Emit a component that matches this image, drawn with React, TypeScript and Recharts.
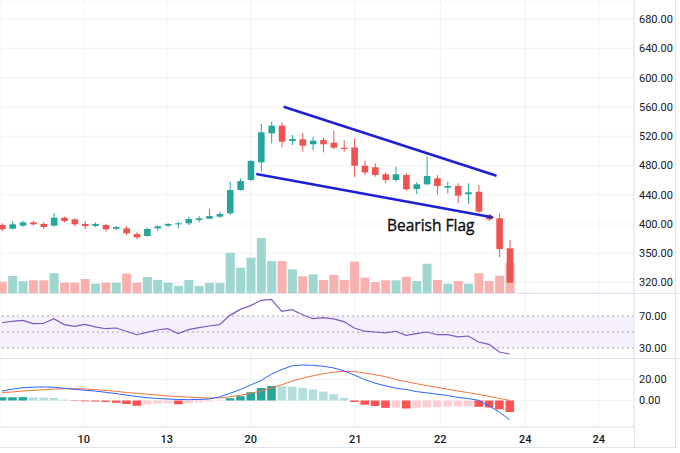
import React from 'react';
import {
  ComposedChart,
  Bar,
  Line,
  XAxis,
  YAxis,
  CartesianGrid,
  ReferenceLine,
  ReferenceArea,
  ReferenceDot,
  Cell,
} from 'recharts';

// ---------- data ----------
const opens = [
  398.6, 393.6, 397.7, 402.3, 400.0, 397.7, 408.6, 406.4, 400.0, 397.3,
  398.6, 393.6, 394.1, 386.3, 383.6, 394.1, 397.7, 399.6, 401.0, 405.5,
  407.2, 410.0, 414.6, 446.4, 460.1, 484.3, 523.9, 534.3, 513.4, 515.7,
  508.9, 514.7, 511.1, 504.2, 504.5, 479.6, 477.5, 467.9, 460.1, 466.9,
  447.8, 454.2, 462.4, 449.6, 451.9, 440.6, 444.1, 410.9, 407.8, 366.8,
];
const highs = [
  401.0, 404.1, 404.5, 404.1, 403.1, 414.6, 410.0, 407.8, 404.1, 402.3,
  400.0, 397.3, 397.3, 388.7, 394.9, 397.7, 401.0, 403.1, 410.0, 410.9,
  420.5, 416.8, 457.8, 462.4, 487.4, 536.6, 539.7, 538.9, 521.6, 524.7,
  519.3, 517.9, 527.4, 514.7, 517.1, 486.5, 482.9, 470.6, 478.3, 469.3,
  457.0, 491.9, 466.9, 457.8, 455.6, 455.6, 453.3, 413.7, 414.6, 378.1,
];
const lows = [
  390.4, 392.5, 396.3, 397.7, 392.8, 396.3, 402.3, 396.3, 392.8, 395.5,
  389.5, 391.8, 385.0, 379.1, 382.7, 390.8, 395.5, 394.1, 398.6, 402.3,
  406.8, 407.8, 412.3, 445.5, 458.7, 471.4, 510.2, 504.8, 507.9, 498.8,
  501.1, 497.9, 502.5, 498.8, 464.2, 466.9, 464.6, 455.6, 457.8, 445.5,
  441.0, 453.3, 440.6, 441.9, 428.3, 427.3, 415.4, 404.1, 354.5, 319.0,
];
const closes = [
  392.8, 399.6, 402.3, 399.6, 395.9, 408.6, 404.1, 399.6, 397.3, 400.0,
  392.8, 395.9, 387.3, 381.8, 393.2, 396.9, 400.0, 401.0, 406.8, 407.8,
  410.9, 413.7, 446.4, 458.7, 486.1, 525.3, 534.3, 512.4, 516.1, 507.0,
  513.8, 508.9, 504.2, 502.5, 479.5, 470.6, 466.9, 460.1, 467.9, 447.4,
  454.2, 465.6, 451.9, 451.9, 438.7, 443.3, 416.8, 406.4, 365.8, 319.8,
];
const volumes = [
  1130, 1700, 1170, 1270, 1270, 1970, 1030, 1030, 1400, 930,
  1030, 1030, 1930, 1030, 1600, 1300, 1030, 700, 1300, 700,
  1000, 1000, 4030, 2530, 3530, 5500, 3200, 3200, 2370, 1670,
  1870, 1300, 1800, 1300, 3130, 1530, 1100, 1270, 1270, 1630,
  1200, 2930, 1300, 930, 1200, 930, 1970, 1200, 1730, 3000,
];
const rsiValues = [
  61.6, 63.4, 64.6, 60.4, 60.6, 66.6, 59.3, 57.1, 59.6, 56.5,
  54.1, 55.0, 50.9, 46.6, 49.5, 52.5, 54.1, 47.9, 52.9, 55.5,
  57.5, 59.1, 70.8, 78.3, 83.0, 89.6, 90.9, 75.9, 77.9, 71.6,
  66.6, 67.9, 66.5, 63.0, 55.0, 51.0, 50.0, 48.8, 50.9, 45.9,
  48.0, 50.0, 46.6, 46.6, 43.8, 45.0, 37.5, 34.6, 25.0, 22.5,
];
const macdValues = [
  9.0, 10.8, 12.2, 12.7, 12.9, 12.6, 11.6, 10.6, 9.8, 9.0,
  7.8, 6.6, 5.2, 3.8, 2.7, 1.9, 1.4, 1.0, 0.8, 1.0,
  1.5, 3.5, 6.8, 10.5, 14.8, 19.0, 25.0, 29.5, 33.0, 33.8,
  33.5, 32.6, 31.0, 28.2, 24.2, 20.0, 16.5, 14.0, 11.8, 10.5,
  8.5, 7.3, 6.0, 4.8, 3.0, 1.8, 0.2, -5.0, -11.0, -18.3,
];
const signalValues = [
  7.4, 8.2, 9.0, 9.6, 10.3, 10.8, 11.2, 11.3, 11.0, 10.3,
  9.6, 8.8, 7.6, 6.8, 6.1, 5.2, 4.4, 3.8, 3.2, 2.7,
  2.4, 2.4, 3.5, 5.0, 6.8, 9.0, 12.0, 15.0, 18.5, 21.2,
  23.5, 25.5, 27.0, 27.8, 27.5, 26.2, 24.5, 22.8, 20.0, 18.0,
  16.0, 14.2, 12.5, 10.8, 9.0, 7.5, 5.8, 4.0, 2.0, 0.2,
];
const histValues = [
  3.0, 3.1, 3.2, 2.9, 2.7, 2.5, 0.8, -0.4, -0.8, -1.0,
  -1.3, -2.2, -3.2, -5.0, -3.8, -3.0, -2.6, -3.6, -2.6, -1.8,
  -1.0, -0.3, 2.2, 4.1, 7.9, 11.9, 13.8, 13.6, 13.2, 12.0,
  10.5, 8.5, 6.0, 2.5, -1.5, -4.0, -5.2, -7.0, -6.8, -7.6,
  -7.0, -6.6, -6.3, -6.0, -5.7, -5.4, -6.0, -6.6, -8.4, -11.0,
];

const xTickValues = [7.9, 15.9, 24, 34.1, 42.3, 50.5, 57.6];
const xTickLabels = ['10', '13', '20', '21', '22', '24', '24'];
const priceTickValues = [320, 360, 400, 440, 480, 520, 560, 600, 640, 680];
const priceTickLabels = ['320.00', '350.00', '400.00', '440.00', '480.00', '520.00', '560.00', '600.00', '640.00', '680.00'];
const rsiTickValues = [30, 70];
const rsiTickLabels = ['30.00', '70.00'];
const rsiLevels = [70, 50, 30];
const macdTickValues = [0, 20];
const macdTickLabels = ['0.00', '20.00'];

const upperTrend = [{ x: 27.18, y: 560.2 }, { x: 47.73, y: 466.0 }];
const lowerTrend = [{ x: 24.54, y: 468.3 }, { x: 47.3, y: 409.2 }];
const flagLabel = { x: 41.38, y: 390.8, text: 'Bearish Flag' };

// ---------- styling ----------
const UP = '#26a69a';
const DOWN = '#ef5350';
const UP_VOL = '#9fd6d0';
const DOWN_VOL = '#f9b1b0';
const H_DARK_UP = '#26a69a';
const H_LIGHT_UP = '#b2dfdb';
const H_DARK_DN = '#ff5252';
const H_LIGHT_DN = '#ffcdd2';
const GRID = '#f0f3fa';
const BORDER = '#e0e3eb';
const TEXT = '#131722';
const FONT = 'Roboto, "Noto Sans", sans-serif';
const X_DOMAIN: [number, number] = [-0.193, 61];
const W = 680;
const AXIS_W = 46;

const data = opens.map((o, i) => ({
  i,
  open: o,
  high: highs[i],
  low: lows[i],
  close: closes[i],
  volume: volumes[i],
  rsi: rsiValues[i],
  macd: macdValues[i],
  signal: signalValues[i],
  hist: histValues[i],
}));

const histColor = (i: number) => {
  const v = histValues[i];
  const p = i > 0 ? histValues[i - 1] : v;
  if (v >= 0) return v >= p ? H_DARK_UP : H_LIGHT_UP;
  return v <= p ? H_DARK_DN : H_LIGHT_DN;
};

const Candle = (props: any) => {
  const { x, y, width, height, payload } = props;
  if (!payload) return null;
  const { open, close, high, low } = payload;
  const color = close >= open ? UP : DOWN;
  const top = Math.min(y, y + height);
  const h = Math.abs(height);
  const ratio = high > low ? h / (high - low) : 0;
  const cx = x + width / 2;
  const bodyTop = top + (high - Math.max(open, close)) * ratio;
  const bodyH = Math.max(1, Math.abs(open - close) * ratio);
  return (
    <g>
      <line x1={cx} x2={cx} y1={top} y2={top + h} stroke={color} strokeWidth={1} />
      <rect x={cx - 3.3} y={bodyTop} width={6.6} height={bodyH} fill={color} />
    </g>
  );
};

const tickStyle = { fill: TEXT, fontSize: 11, fontFamily: FONT };

const fmt = (vals: number[], labels: string[]) => (v: number) => {
  const k = vals.indexOf(v);
  return k >= 0 ? labels[k] : '';
};

const FlagText = (props: any) => {
  const { cx, cy } = props;
  return (
    <text
      x={cx}
      y={cy}
      textAnchor="middle"
      fill="#0d0d0d"
      stroke="#0d0d0d"
      strokeWidth={0.35}
      fontSize={15.5}
      fontWeight={500}
      fontFamily='"Open Sans", "Noto Sans", sans-serif'
    >
      {flagLabel.text}
    </text>
  );
};

export default function App() {
  return (
    <div style={{ position: 'fixed', left: 0, top: 0, width: W, height: 453, background: '#fff', fontFamily: FONT, overflow: 'hidden' }}>
      <svg width={0} height={0} style={{ position: 'absolute' }}>
        <defs>
          <marker id="arrowHead" markerWidth="5" markerHeight="5" refX="3" refY="2.5" orient="auto" markerUnits="userSpaceOnUse">
            <path d="M0,0 L5,2.5 L0,5 Z" fill="#3a22b8" />
          </marker>
        </defs>
      </svg>

      {/* price + volume pane */}
      <div style={{ position: 'absolute', left: 0, top: 0 }}>
        <ComposedChart width={W} height={293} data={data} margin={{ top: 0, right: 0, bottom: 0, left: 0 }}>
          <CartesianGrid xAxisId="p" yAxisId="p" stroke={GRID} />
          <XAxis xAxisId="p" type="number" dataKey="i" domain={X_DOMAIN} ticks={xTickValues} allowDataOverflow hide />
          <XAxis xAxisId="v" type="number" dataKey="i" domain={X_DOMAIN} allowDataOverflow hide />
          <YAxis
            yAxisId="p"
            orientation="right"
            width={AXIS_W}
            domain={[305.75, 706]}
            ticks={priceTickValues}
            interval={0}
            allowDataOverflow
            tickFormatter={fmt(priceTickValues, priceTickLabels)}
            tick={tickStyle}
            tickLine={false}
            tickSize={0}
            tickMargin={5}
            axisLine={{ stroke: BORDER }}
          />
          <YAxis yAxisId="v" hide domain={[0, 29300]} allowDataOverflow />
          <Bar xAxisId="v" yAxisId="v" dataKey="volume" barSize={9} isAnimationActive={false}>
            {data.map((d, k) => (
              <Cell key={k} fill={d.close >= d.open ? UP_VOL : DOWN_VOL} />
            ))}
          </Bar>
          <Bar
            xAxisId="p"
            yAxisId="p"
            dataKey={(d: any) => [d.low, d.high]}
            barSize={7}
            shape={Candle}
            isAnimationActive={false}
          />
          <ReferenceLine
            xAxisId="p"
            yAxisId="p"
            segment={upperTrend}
            stroke="#1f1fd6"
            strokeWidth={2.5}
            ifOverflow="visible"
          />
          <ReferenceLine
            xAxisId="p"
            yAxisId="p"
            segment={lowerTrend}
            stroke="#1f1fd6"
            strokeWidth={2.5}
            ifOverflow="visible"
            markerEnd="url(#arrowHead)"
          />
          <ReferenceDot xAxisId="p" yAxisId="p" x={flagLabel.x} y={flagLabel.y} r={0} shape={FlagText} ifOverflow="visible" />
        </ComposedChart>
      </div>
      <div style={{ position: 'absolute', left: 0, top: 293, width: W, height: 1, background: BORDER }} />

      {/* RSI pane */}
      <div style={{ position: 'absolute', left: 0, top: 294 }}>
        <ComposedChart width={W} height={64} data={data} margin={{ top: 0, right: 0, bottom: 0, left: 0 }}>
          <CartesianGrid stroke={GRID} horizontal={false} />
          <XAxis type="number" dataKey="i" domain={X_DOMAIN} ticks={xTickValues} allowDataOverflow hide />
          <YAxis
            orientation="right"
            width={AXIS_W}
            domain={[17.5, 97.5]}
            ticks={rsiTickValues}
            interval={0}
            allowDataOverflow
            tickFormatter={fmt(rsiTickValues, rsiTickLabels)}
            tick={tickStyle}
            tickLine={false}
            tickSize={0}
            tickMargin={5}
            axisLine={{ stroke: BORDER }}
          />
          <ReferenceArea y1={30} y2={70} fill="#f6effc" fillOpacity={1} stroke="none" ifOverflow="visible" />
          {rsiLevels.map((lv) => (
            <ReferenceLine key={lv} y={lv} stroke="#a3a6af" strokeDasharray="2 3" strokeWidth={1} />
          ))}
          <Line dataKey="rsi" stroke="#7e57c2" strokeWidth={1.2} dot={false} isAnimationActive={false} />
        </ComposedChart>
      </div>
      <div style={{ position: 'absolute', left: 0, top: 358, width: W, height: 1, background: BORDER }} />

      {/* MACD pane + time axis */}
      <div style={{ position: 'absolute', left: 0, top: 359 }}>
        <ComposedChart width={W} height={94} data={data} margin={{ top: 0, right: 0, bottom: 0, left: 0 }}>
          <CartesianGrid stroke={GRID} />
          <XAxis
            type="number"
            dataKey="i"
            domain={X_DOMAIN}
            ticks={xTickValues}
            interval={0}
            allowDataOverflow
            height={26}
            tickFormatter={fmt(xTickValues, xTickLabels)}
            tick={{ ...tickStyle, fontWeight: 500 }}
            tickLine={false}
            axisLine={{ stroke: BORDER }}
          />
          <YAxis
            orientation="right"
            width={AXIS_W}
            domain={[-25.2, 39.5]}
            ticks={macdTickValues}
            interval={0}
            allowDataOverflow
            tickFormatter={fmt(macdTickValues, macdTickLabels)}
            tick={tickStyle}
            tickLine={false}
            tickSize={0}
            tickMargin={5}
            axisLine={{ stroke: BORDER }}
          />
          <Bar dataKey="hist" barSize={8.6} isAnimationActive={false}>
            {data.map((d, k) => (
              <Cell key={k} fill={histColor(k)} />
            ))}
          </Bar>
          <Line dataKey="signal" stroke="#f4733f" strokeWidth={1} dot={false} isAnimationActive={false} />
          <Line dataKey="macd" stroke="#2962ff" strokeWidth={1} dot={false} isAnimationActive={false} />
        </ComposedChart>
      </div>
      <div style={{ position: 'absolute', left: 634, top: 427, width: 1, height: 20, background: BORDER }} />
      <div style={{ position: 'absolute', left: 0, top: 447, width: 676, height: 1, background: BORDER }} />
      <div style={{ position: 'absolute', left: 675, top: 0, width: 1, height: 448, background: BORDER }} />
    </div>
  );
}
